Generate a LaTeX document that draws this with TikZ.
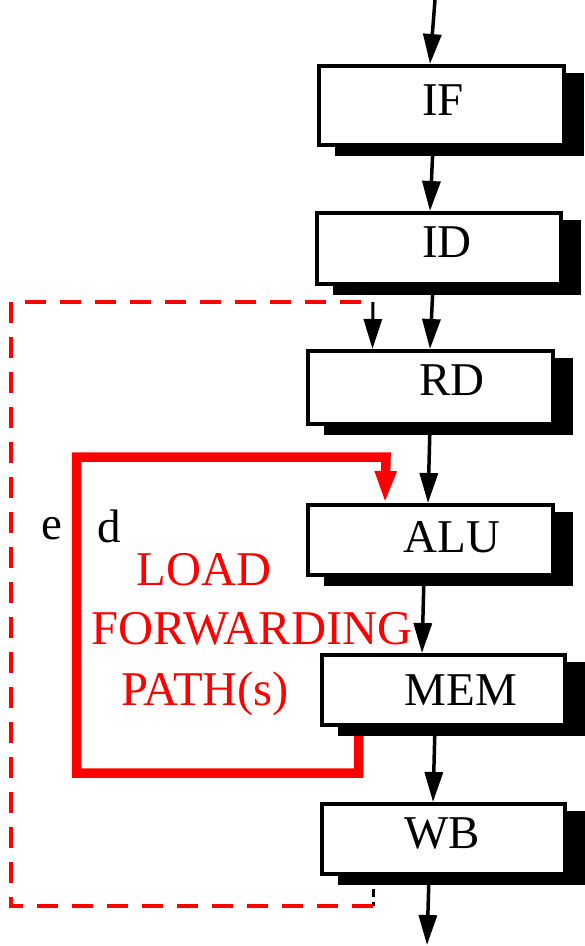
\documentclass[tikz,border=0pt]{standalone}
\usepackage{fontspec}
\setmainfont{Liberation Serif}
\usetikzlibrary{arrows.meta,shadows,backgrounds}
\begin{document}
\begin{tikzpicture}[x=1pt,y=-1pt,
  stagebox/.style={draw=black, line width=4pt, fill=white, inner sep=0pt, rectangle,
    drop shadow={shadow xshift=18pt, shadow yshift=-9pt, opacity=1, fill=black, draw=black, line width=4pt}},
  lbl/.style={anchor=base, inner sep=0pt, font=\fontsize{47}{47}\selectfont},
  redlbl/.style={anchor=base, inner sep=0pt, text=red, font=\fontsize{48.5}{48.5}\selectfont},
  arr/.style={draw=black, line width=3.5pt, -{Triangle[width=18pt,length=30pt]}},
  reddash/.style={draw=red, line width=3.5pt, dash pattern=on 21pt off 14pt},
  blackdash/.style={draw=black, line width=3pt, dash pattern=on 8pt off 5pt},
  redpath/.style={draw=red, line width=9.5pt, line join=miter, -{Triangle[width=20pt,length=32pt]}}]
\useasboundingbox (0,0) rectangle (585,946);

% stages
\node[stagebox, minimum width=245pt, minimum height=79pt] (IF)  at (441.5,105.5) {};
\node[stagebox, minimum width=244pt, minimum height=71pt] (ID)  at (439,248.5) {};
\node[stagebox, minimum width=245pt, minimum height=73pt] (RD)  at (430.5,387.5) {};
\node[stagebox, minimum width=245pt, minimum height=70pt] (ALU) at (430.5,540) {};
\node[stagebox, minimum width=243pt, minimum height=70pt] (MEM) at (443.5,690) {};
\node[stagebox, minimum width=243pt, minimum height=70pt] (WB)  at (443.5,839) {};

\node[lbl] (tIF)  at (443,115) {IF};
\node[lbl] (tID)  at (447,257) {ID};
\node[lbl] (tRD)  at (452,395) {RD};
\node[lbl] (tALU) at (452,552) {ALU};
\node[lbl] (tMEM) at (461,705) {MEM};
\node[lbl] (tWB)  at (442,848) {WB};

\node[lbl] (te) at (52,539) {e};
\node[lbl] (td) at (109,542) {d};

\node[redlbl] (tLOAD) at (204,585) {LOAD};
\node[redlbl] (tFWD)  at (252,644) {FORWARDING};
\node[redlbl] (tPATH) at (205,705) {PATH(s)};

\coordinate (in)  at (435,0);
\coordinate (out) at (427,945);
\coordinate (fbBR) at (373,906);
\coordinate (fbBL) at (11,906);
\coordinate (fbTL) at (11,302);
\coordinate (fbTR) at (373,302);
\coordinate (rBR) at (358.5,773);
\coordinate (rBL) at (76.5,773);
\coordinate (rTL) at (76.5,457);
\coordinate (rTR) at (386,457);

\begin{scope}[on background layer]
  \draw[arr] (in) -- ([xshift=-11.5pt]IF.north);
  \draw[arr] ([xshift=-8.5pt]IF.south) -- ([xshift=-9pt]ID.north);
  \draw[arr] ([xshift=-6pt]ID.south) -- ([xshift=-0.5pt]RD.north);
  \draw[arr] ([xshift=-0.5pt]RD.south) -- ([xshift=-2.5pt]ALU.north);
  \draw[arr] ([xshift=-6.5pt]ALU.south) -- ([xshift=-21.5pt]MEM.north);
  \draw[arr] ([xshift=-8.5pt]MEM.south) -- ([xshift=-10.5pt]WB.north);
  \draw[arr] ([xshift=-14.5pt]WB.south) -- (out);

  \draw[blackdash] ([xshift=-70.5pt]WB.south) -- (fbBR);
  \draw[reddash] (fbBR) -- (fbBL) -- (fbTL) -- (fbTR);
  \draw[arr, line width=3pt] (fbTR) -- ([xshift=-58pt]RD.north);

  \draw[redpath] ([xshift=-85pt]MEM.south) -- (rBR) -- (rBL) -- (rTL) -- (rTR) -- ([xshift=-45.5pt]ALU.north);
\end{scope}
\end{tikzpicture}
\end{document}
